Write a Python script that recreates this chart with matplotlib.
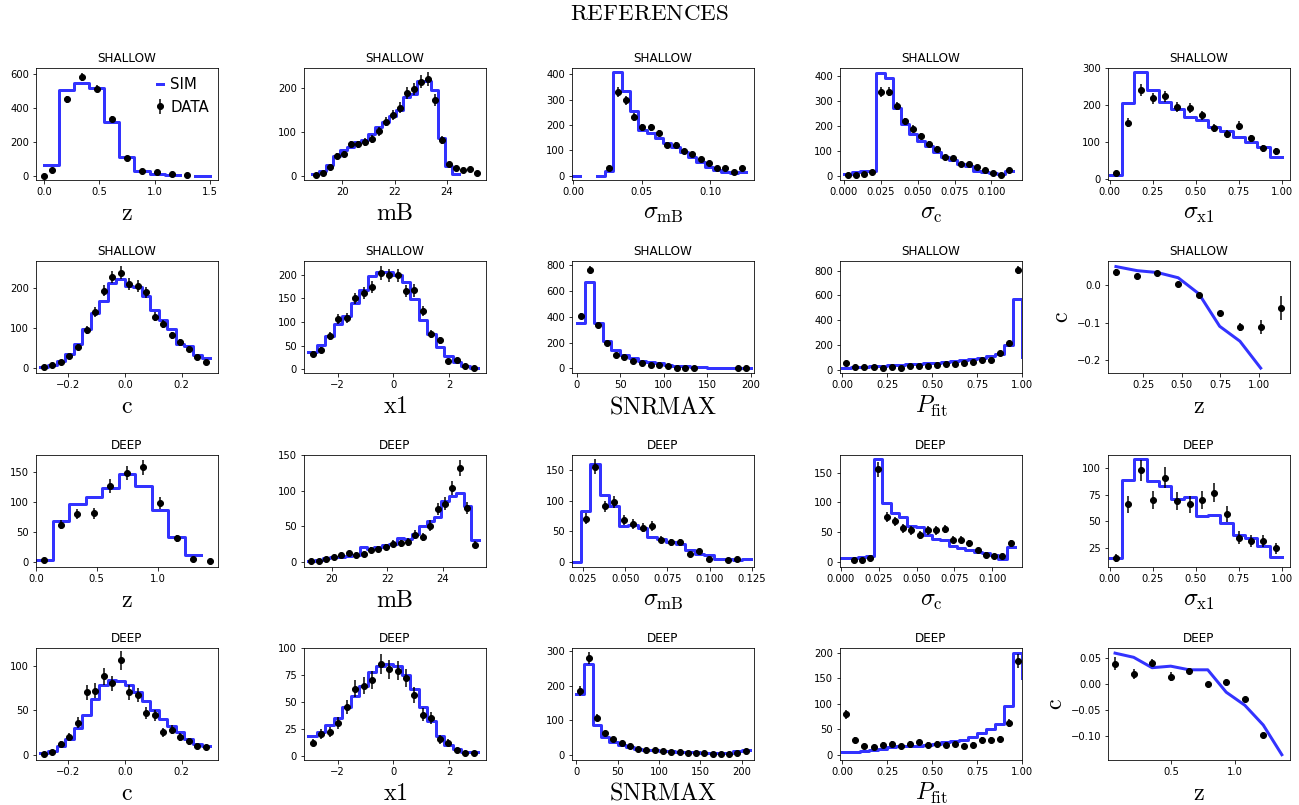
import numpy as np
import matplotlib.pyplot as plt
from matplotlib.ticker import MultipleLocator

plt.rcParams['mathtext.fontset'] = 'cm'
plt.rcParams['font.size'] = 10

nan = np.nan

# ---------------- SHALLOW ----------------
z_sh_bins = [0.068, 0.205, 0.341, 0.477, 0.614, 0.750, 0.886, 1.023, 1.159, 1.295, 1.432]
z_sh_sim = [60, 505, 548, 515, 315, 108, 30, 8, 4, nan, 0]
z_sh_x = [0.0, 0.068, 0.205, 0.341, 0.477, 0.614, 0.750, 0.886, 1.023, 1.159, 1.295]
z_sh_data = [0, 35, 450, 584, 514, 334, 102, 30, 20, 10, 2]

mb_sh_bins = [18.98, 19.25, 19.52, 19.78, 20.05, 20.32, 20.59, 20.86, 21.12, 21.39, 21.66,
              21.93, 22.20, 22.46, 22.73, 23.00, 23.27, 23.54, 23.80, 24.07, 24.34]
mb_sh_sim = [3, 10, 25, 45, 58, 65, 77, 80, 95, 110, 122, 135, 150, 178, 185, 215, 215, 195, 85, 22, 3]
mb_sh_x = mb_sh_bins + [24.61, 24.88, 25.14]
mb_sh_data = [1, 5, 19, 44, 50, 71, 71, 76, 83, 101, 123, 138, 155, 188, 197, 214, 220, 172,
              81, 26, 17, 13, 15, 5]

smb_sh_bins = [0.0022, 0.0083, 0.0143, 0.0204, 0.0264, 0.0325, 0.0385, 0.0446, 0.0506, 0.0567,
               0.0627, 0.0688, 0.0748, 0.0809, 0.0869, 0.0930, 0.0990, 0.1051, 0.1111, 0.1172, 0.1232]
smb_sh_sim = [0, nan, nan, 0, 20, 408, 333, 257, 180, 167, 147, 130, 114, 94, 74, 56, 36, 23, 16, 9, 15]
smb_sh_x = smb_sh_bins[4:]
smb_sh_data = [32, 330, 297, 231, 191, 191, 169, 122, 123, 96, 86, 64, 51, 29, 31, 13, 29]

sc_sh_bins = [0.0029, 0.0084, 0.0138, 0.0193, 0.0248, 0.0302, 0.0357, 0.0412, 0.0466, 0.0521,
              0.0576, 0.0630, 0.0685, 0.0739, 0.0794, 0.0849, 0.0903, 0.0958, 0.1013, 0.1067, 0.1122]
sc_sh_sim = [7, 15, 18, 18, 413, 389, 271, 206, 165, 140, 118, 95, 75, 61, 45, 37, 20, 14, 9, 7, 20]
sc_sh_x = sc_sh_bins
sc_sh_data = [1, 3, 8, 14, 335, 336, 279, 217, 187, 159, 126, 107, 73, 69, 47, 45, 33, 23, 11, 3, 23]

sx1_sh_bins = [0.036, 0.108, 0.179, 0.251, 0.322, 0.394, 0.465, 0.537, 0.608, 0.680, 0.751,
               0.823, 0.894, 0.966]
sx1_sh_sim = [11, 205, 288, 241, 209, 189, 169, 161, 141, 130, 114, 101, 87, 60]
sx1_sh_x = sx1_sh_bins
sx1_sh_data = [18, 152, 241, 218, 224, 194, 193, 172, 138, 121, 145, 110, 83, 75]

c_bins = [-0.285, -0.255, -0.225, -0.195, -0.165, -0.135, -0.105, -0.075, -0.045, -0.015,
          0.015, 0.045, 0.075, 0.105, 0.135, 0.165, 0.195, 0.225, 0.255, 0.285]
c_sh_sim = [3, 9, 18, 35, 60, 97, 138, 168, 212, 222, 205, 202, 180, 145, 120, 97, 62, 55, 34, 26]
c_sh_data = [3, 8, 15, 31, 53, 95, 140, 193, 227, 238, 210, 205, 189, 128, 110, 82, 65, 48, 28, 15]

x1_bins = [-2.9, -2.595, -2.29, -1.985, -1.68, -1.375, -1.07, -0.765, -0.46, -0.155,
           0.15, 0.455, 0.76, 1.065, 1.37, 1.675, 1.98, 2.285, 2.59, 2.895]
x1_sh_sim = [37, 52, 70, 95, 113, 140, 167, 197, 206, 206, 199, 184, 148, 104, 74, 47, 27, 16, 7, 3]
x1_sh_data = [32, 41, 70, 106, 108, 150, 161, 174, 204, 199, 199, 165, 167, 123, 75, 61, 18, 20, 7, 3]

snr_sh_bins = [5, 15, 25, 35, 45, 55, 65, 75, 85, 95, 105, 115, 125, 135, 145, 155, 165, 175, 185, 195]
snr_sh_sim = [353, 669, 348, 212, 144, 107, 78, 60, 48, 38, 28, 20, 15, 10, 7, 4, 3, 2, 2, 1]
snr_sh_x = [5, 15, 25, 35, 45, 55, 65, 75, 85, 95, 105, 115, 125, 135, 185, 195]
snr_sh_data = [410, 766, 335, 199, 102, 86, 55, 44, 26, 24, 16, 5, 3, 5, 3, 3]

pfit_bins = [0.025, 0.075, 0.125, 0.175, 0.225, 0.275, 0.325, 0.375, 0.425, 0.475,
             0.525, 0.575, 0.625, 0.675, 0.725, 0.775, 0.825, 0.875, 0.925, 0.975]
pfit_sh_sim = [18, 22, 25, 28, 32, 38, 42, 45, 50, 55, 60, 65, 72, 80, 88, 98, 112, 130, 198, 569]
pfit_sh_end = 103
pfit_sh_data = [57, 22, 27, 22, 19, 24, 19, 33, 33, 30, 38, 51, 51, 60, 62, 81, 79, 138, 217, 805]

cz_sh_x = [0.071, 0.209, 0.341, 0.476, 0.611, 0.746, 0.878, 1.013, 1.148]
cz_sh_data = [0.035, 0.025, 0.032, 0.003, -0.026, -0.075, -0.112, -0.111, -0.061]
cz_sh_err = [0.009, 0.006, 0.005, 0.005, 0.006, 0.006, 0.010, 0.019, 0.031]
cz_sh_simx = [0.071, 0.209, 0.341, 0.476, 0.611, 0.746, 0.878, 1.013]
cz_sh_sim = [0.050, 0.039, 0.034, 0.020, -0.023, -0.110, -0.150, -0.222]

# ---------------- DEEP ----------------
z_dp_bins = [0.068, 0.204, 0.340, 0.476, 0.612, 0.748, 0.884, 1.020, 1.156, 1.292]
z_dp_sim = [3, 68, 97, 108, 124, 147, 127, 86, 42, 11]
z_dp_x = z_dp_bins + [1.428]
z_dp_data = [3, 62, 80, 81, 127, 149, 159, 99, 39, 5, 1]

mb_dp_bins = [19.26, 19.53, 19.80, 20.06, 20.33, 20.60, 20.87, 21.14, 21.40, 21.67, 21.94, 22.21,
              22.48, 22.74, 23.01, 23.28, 23.55, 23.82, 24.08, 24.35, 24.62, 24.89, 25.16]
mb_dp_sim = [1, 2, 5, 6, 7, 8, 9, 20, 18, 20, 23, 25, 33, 32, 39, 51, 58, 63, 86, 93, 97, 79, 30]
mb_dp_x = mb_dp_bins
mb_dp_data = [1, 1, 4, 6, 9, 12, 9, 11, 17, 18, 21, 25, 26, 28, 38, 35, 51, 74, 82, 104, 132, 76, 24]

smb_dp_bins = [0.0211, 0.0267, 0.0323, 0.0379, 0.0435, 0.0491, 0.0547, 0.0603, 0.0659, 0.0715,
               0.0771, 0.0827, 0.0883, 0.0939, 0.0995, 0.1051, 0.1107, 0.1163, 0.1219]
smb_dp_sim = [0, 84, 161, 109, 92, 58, 60, 55, 40, 37, 32, 29, 20, 12, 11, 4, 4, 3, 4]
smb_dp_x = [0.0267, 0.0323, 0.0379, 0.0435, 0.0491, 0.0547, 0.0603, 0.0659, 0.0715, 0.0771,
            0.0827, 0.0883, 0.0939, 0.0995, 0.1107, 0.1163]
smb_dp_data = [71, 156, 91, 98, 68, 62, 56, 59, 36, 32, 32, 13, 17, 5, 3, 4]

sc_dp_sim = [6, 6, 8, 10, 173, 99, 82, 76, 61, 58, 45, 38, 37, 27, 23, 19, 17, 14, 12, 4, 24]
sc_dp_x = sc_sh_bins[1:]
sc_dp_data = [2, 2, 6, 156, 76, 68, 56, 53, 45, 53, 53, 55, 37, 37, 31, 19, 12, 10, 10, 31]

sx1_dp_sim = [16, 89, 108, 88, 83, 71, 73, 55, 56, 49, 37, 35, 27, 17]
sx1_dp_data = [16, 66, 98, 70, 91, 69, 66, 70, 77, 57, 35, 32, 32, 25]

c_dp_sim = [2, 4, 10, 18, 30, 45, 62, 78, 84, 83, 78, 70, 60, 50, 40, 32, 25, 18, 12, 10]
c_dp_data = [1, 3, 12, 20, 36, 70, 72, 88, 80, 106, 70, 67, 47, 44, 25, 28, 20, 15, 10, 8]

x1_dp_sim = [18, 22, 28, 35, 45, 55, 65, 78, 83, 85, 83, 75, 62, 45, 32, 18, 10, 6, 3, 3]
x1_dp_data = [12, 20, 22, 30, 45, 62, 65, 70, 85, 80, 79, 72, 56, 38, 35, 15, 12, 5, 2, 2]

snr_dp_bins = [5, 15, 25, 35, 45, 55, 65, 75, 85, 95, 105, 115, 125, 135, 145, 155, 165, 175,
               185, 195, 205]
snr_dp_sim = [175, 262, 85, 52, 38, 28, 22, 18, 15, 13, 11, 10, 9, 8, 7, 6, 5, 4, 4, 10, 15]
snr_dp_data = [185, 280, 108, 62, 45, 35, 25, 18, 15, 13, 11, 9, 8, 6, 5, 4, 3, 3, 2, 5, 10]

pfit_dp_sim = [5, 5, 8, 10, 12, 15, 17, 18, 18, 20, 22, 25, 28, 30, 35, 42, 50, 60, 95, 200]
pfit_dp_end = 150
pfit_dp_data = [80, 30, 18, 15, 20, 22, 17, 22, 25, 20, 22, 20, 22, 18, 20, 30, 30, 32, 62, 185]

cz_dp_x = [0.065, 0.210, 0.354, 0.499, 0.643, 0.788, 0.932, 1.077, 1.221]
cz_dp_data = [0.040, 0.020, 0.042, 0.015, 0.025, 0.000, 0.005, -0.028, -0.098]
cz_dp_err = [0.012, 0.010, 0.006, 0.008, 0.006, 0.004, 0.004, 0.004, 0.005]
cz_dp_simx = [0.065, 0.210, 0.354, 0.499, 0.643, 0.788, 0.932, 1.077, 1.221, 1.366]
cz_dp_sim = [0.060, 0.052, 0.032, 0.035, 0.028, 0.028, -0.015, -0.040, -0.078, -0.135]

lbl_z = r'$\mathrm{z}$'
lbl_c = r'$\mathrm{c}$'

hist_panels = [
    # row, col, title, bins, sim, data x, data, end, xlabel, xlim, ylim, xtick step
    (0, 0, 'SHALLOW', z_sh_bins, z_sh_sim, z_sh_x, z_sh_data, None, lbl_z, (-0.075, 1.575), (-26, 636), 0.5),
    (0, 1, 'SHALLOW', mb_sh_bins, mb_sh_sim, mb_sh_x, mb_sh_data, None, r'$\mathrm{mB}$', (18.53, 25.5), (-10, 245), 2),
    (0, 2, 'SHALLOW', smb_sh_bins, smb_sh_sim, smb_sh_x, smb_sh_data, None, r'$\sigma_{\mathrm{mB}}$', (-0.0007, 0.132), (-17, 425), 0.05),
    (0, 3, 'SHALLOW', sc_sh_bins, sc_sh_sim, sc_sh_x, sc_sh_data, None, r'$\sigma_{\mathrm{c}}$', (-0.0027, 0.1208), (-18, 431), 0.025),
    (0, 4, 'SHALLOW', sx1_sh_bins, sx1_sh_sim, sx1_sh_x, sx1_sh_data, None, r'$\sigma_{\mathrm{x1}}$', (-0.01, 1.049), (-2, 300), 0.25),
    (1, 0, 'SHALLOW', c_bins, c_sh_sim, c_bins, c_sh_data, None, lbl_c, (-0.313, 0.328), (-12, 266), 0.2),
    (1, 1, 'SHALLOW', x1_bins, x1_sh_sim, x1_bins, x1_sh_data, None, r'$\mathrm{x1}$', (-3.21, 3.33), (-9, 229), 2),
    (1, 2, 'SHALLOW', snr_sh_bins, snr_sh_sim, snr_sh_x, snr_sh_data, None, r'$\mathrm{SNRMAX}$', (-5.3, 203.8), (-39, 831), 50),
    (1, 3, 'SHALLOW', pfit_bins, pfit_sh_sim, pfit_bins, pfit_sh_data, pfit_sh_end, r'$P_{\mathrm{fit}}$', (-0.011, 1.0), (-27, 875), 0.25),
    (2, 0, 'DEEP', z_dp_bins, z_dp_sim, z_dp_x, z_dp_data, None, lbl_z, (0.0, 1.497), (-8.5, 180), 0.5),
    (2, 1, 'DEEP', mb_dp_bins, mb_dp_sim, mb_dp_x, mb_dp_data, None, r'$\mathrm{mB}$', (18.99, 25.56), (-7, 151), 2),
    (2, 2, 'DEEP', smb_dp_bins, smb_dp_sim, smb_dp_x, smb_dp_data, None, r'$\sigma_{\mathrm{mB}}$', (0.0186, 0.1262), (-8, 176), 0.025),
    (2, 3, 'DEEP', sc_sh_bins, sc_dp_sim, sc_dp_x, sc_dp_data, None, r'$\sigma_{\mathrm{c}}$', (-0.0005, 0.1196), (-8.5, 181), 0.025),
    (2, 4, 'DEEP', sx1_sh_bins, sx1_dp_sim, sx1_sh_bins, sx1_dp_data, None, r'$\sigma_{\mathrm{x1}}$', (-0.01, 1.049), (7.8, 112.5), 0.25),
    (3, 0, 'DEEP', c_bins, c_dp_sim, c_bins, c_dp_data, None, lbl_c, (-0.313, 0.328), (-6, 120), 0.2),
    (3, 1, 'DEEP', x1_bins, x1_dp_sim, x1_bins, x1_dp_data, None, r'$\mathrm{x1}$', (-3.21, 3.33), (-4, 100), 2),
    (3, 2, 'DEEP', snr_dp_bins, snr_dp_sim, snr_dp_bins, snr_dp_data, None, r'$\mathrm{SNRMAX}$', (-5, 215), (-15, 310), 50),
    (3, 3, 'DEEP', pfit_bins, pfit_dp_sim, pfit_bins, pfit_dp_data, pfit_dp_end, r'$P_{\mathrm{fit}}$', (-0.011, 1.0), (-10, 210), 0.25),
]

line_panels = [
    (1, 4, 'SHALLOW', cz_sh_simx, cz_sh_sim, cz_sh_x, cz_sh_data, cz_sh_err, (0.0196, 1.204), (-0.236, 0.064), 0.25),
    (3, 4, 'DEEP', cz_dp_simx, cz_dp_sim, cz_dp_x, cz_dp_data, cz_dp_err, (0.01, 1.43), (-0.145, 0.07), 0.5),
]

SIM_KW = dict(color='blue', lw=3, alpha=0.8)
DATA_KW = dict(fmt='o', color='black', ms=6, elinewidth=1.5, capsize=0)

fig, axes = plt.subplots(4, 5, figsize=(1299 / 72, 805 / 72), dpi=72)
fig.subplots_adjust(left=0.0277, right=0.9931, bottom=0.056, top=0.9155, wspace=0.4725, hspace=0.726)

for row, col, title, bins, sim, dx, dy, end, xlabel, xlim, ylim, step in hist_panels:
    ax = axes[row, col]
    c = np.asarray(bins, float)
    w = np.diff(c).mean()
    edges = np.concatenate([[c[0] - w / 2], (c[:-1] + c[1:]) / 2, [c[-1] + w / 2]])
    yy = list(sim) + [sim[-1] if end is None else end]
    ax.step(edges, yy, where='post', label='SIM', **SIM_KW)
    ax.errorbar(dx, dy, yerr=np.sqrt(dy), label='DATA', **DATA_KW)
    ax.set_title(title)
    ax.set_xlabel(xlabel, fontsize=24)
    ax.set_xlim(xlim)
    ax.set_ylim(ylim)
    ax.xaxis.set_major_locator(MultipleLocator(step))

for row, col, title, sx, sy, dx, dy, err, xlim, ylim, step in line_panels:
    ax = axes[row, col]
    ax.plot(sx, sy, **SIM_KW)
    ax.errorbar(dx, dy, yerr=err, **DATA_KW)
    ax.set_title(title)
    ax.set_xlabel(lbl_z, fontsize=24)
    ax.set_ylabel(lbl_c, fontsize=24)
    ax.set_xlim(xlim)
    ax.set_ylim(ylim)
    ax.xaxis.set_major_locator(MultipleLocator(step))

axes[0, 0].legend(loc='upper right', frameon=False, fontsize=15, handlelength=0.4,
                  handletextpad=0.5, borderaxespad=0.2)

fig.suptitle(r'$\mathrm{REFERENCES}$', fontsize=23, y=0.998)

fig.savefig('out.png', dpi=72)
